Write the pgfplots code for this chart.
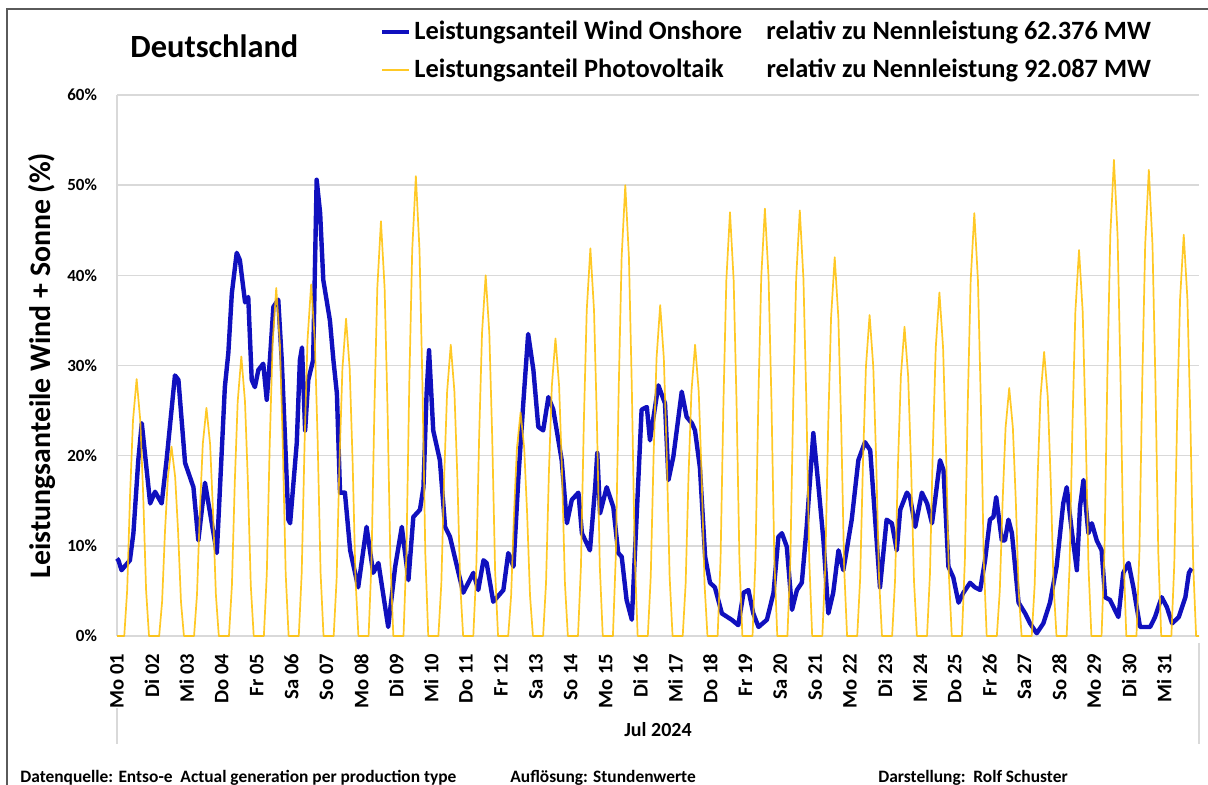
\documentclass[border=0pt]{standalone}
\usepackage{pgfplots}
\pgfplotsset{compat=1.18}
\usepackage{pgfplotstable}
\usepackage{fontspec}
\setmainfont{Carlito}
\definecolor{windblue}{RGB}{16,16,190}
\definecolor{pvgold}{RGB}{255,192,0}
\definecolor{gridgray}{RGB}{217,217,217}
\definecolor{framegray}{RGB}{90,90,90}

\pgfplotstableread{
x y
0 8.6
0.04 8.4
0.13 7.3
0.37 8.4
0.47 11.4
0.61 19.5
0.71 23.6
0.95 14.7
1.09 16.0
1.28 14.7
1.42 19.5
1.66 28.9
1.76 28.4
1.95 19.2
2.19 16.5
2.33 10.6
2.52 17.0
2.86 9.2
3.09 27.6
3.19 31.4
3.29 38.0
3.43 42.5
3.52 41.7
3.67 37.0
3.76 37.6
3.86 28.4
3.95 27.6
4.05 29.5
4.19 30.2
4.29 26.2
4.38 30.6
4.48 36.5
4.62 37.3
4.72 30.6
4.76 26.9
4.91 12.9
4.96 12.5
5.15 21.4
5.24 30.6
5.30 32.0
5.39 22.8
5.48 28.4
5.62 30.6
5.72 50.6
5.82 46.9
5.91 39.5
6.10 35.0
6.20 30.6
6.30 26.9
6.39 15.9
6.53 15.9
6.68 9.5
6.91 5.4
7.15 12.1
7.34 7.0
7.49 8.1
7.77 1.0
7.97 7.7
8.16 12.1
8.35 6.2
8.49 13.2
8.68 14.0
8.78 16.5
8.87 26.9
8.94 31.7
9.06 22.8
9.25 19.5
9.40 12.1
9.54 11.0
9.92 4.8
10.21 7.0
10.35 5.1
10.50 8.4
10.59 8.1
10.78 3.8
11.07 5.1
11.21 9.2
11.36 7.7
11.50 17.6
11.64 25.8
11.78 33.5
11.93 29.5
12.07 23.2
12.21 22.8
12.36 26.5
12.50 25.1
12.74 19.5
12.89 12.5
13.03 15.1
13.22 15.9
13.32 11.4
13.55 9.5
13.70 16.5
13.76 20.3
13.84 13.6
14.03 16.5
14.22 14.3
14.36 9.2
14.46 8.8
14.60 4.0
14.75 1.8
14.94 17.6
15.03 25.1
15.18 25.4
15.27 21.7
15.51 27.8
15.70 25.8
15.80 17.3
15.94 19.9
16.18 27.1
16.32 24.3
16.47 23.6
16.56 22.8
16.70 18.7
16.85 8.8
16.99 5.9
17.13 5.4
17.33 2.5
17.61 1.8
17.80 1.2
17.95 4.8
18.09 5.1
18.23 2.5
18.38 1.0
18.62 1.8
18.81 4.8
18.95 11.0
19.05 11.4
19.19 9.9
19.34 2.9
19.48 5.1
19.62 5.9
19.76 12.1
19.95 22.5
20.10 16.5
20.24 10.6
20.38 2.5
20.52 4.8
20.67 9.5
20.81 7.3
21.05 12.9
21.24 19.5
21.43 21.5
21.58 20.6
21.86 5.4
22.05 12.9
22.20 12.5
22.34 9.5
22.44 14.0
22.63 15.9
22.72 15.4
22.87 12.1
23.06 15.9
23.21 14.7
23.35 12.5
23.44 15.1
23.58 19.5
23.68 18.4
23.82 7.7
23.96 6.5
24.11 3.7
24.25 4.8
24.44 5.9
24.58 5.4
24.73 5.1
24.87 8.4
25.01 12.9
25.11 13.2
25.19 15.4
25.35 10.6
25.44 10.6
25.54 12.9
25.64 11.4
25.83 3.7
26.02 2.5
26.16 1.4
26.35 0.3
26.54 1.4
26.73 3.7
26.92 7.7
27.11 14.7
27.21 16.5
27.35 11.8
27.50 7.3
27.59 14.3
27.69 17.3
27.83 11.4
27.93 12.5
28.07 10.6
28.21 9.5
28.31 4.3
28.45 4.0
28.69 2.1
28.83 7.0
28.98 8.1
29.12 5.4
29.31 1.0
29.60 1.0
29.74 2.1
29.93 4.3
30.08 3.2
30.23 1.4
30.42 2.1
30.61 4.3
30.71 7.0
30.79 7.5
}\wind

\pgfplotstableread{
x y
0 0
0.208 0
0.292 5.1
0.375 15.7
0.458 23.9
0.5625 28.5
0.667 23.9
0.75 15.7
0.833 5.1
0.917 0
1.208 0
1.292 3.8
1.375 11.6
1.458 17.6
1.5625 21.0
1.667 17.6
1.75 11.6
1.833 3.8
1.917 0
2.208 0
2.292 4.6
2.375 13.9
2.458 21.3
2.5625 25.3
2.667 21.3
2.75 13.9
2.833 4.6
2.917 0
3.208 0
3.292 5.6
3.375 17.1
3.458 26.0
3.5625 31.0
3.667 26.0
3.75 17.1
3.833 5.6
3.917 0
4.208 0
4.292 6.9
4.375 21.2
4.458 32.4
4.5625 38.6
4.667 32.4
4.75 21.2
4.833 6.9
4.917 0
5.208 0
5.292 7.0
5.375 21.5
5.458 32.8
5.5625 39.0
5.667 32.8
5.75 21.5
5.833 7.0
5.917 0
6.208 0
6.292 6.3
6.375 19.4
6.458 29.6
6.5625 35.2
6.667 29.6
6.75 19.4
6.833 6.3
6.917 0
7.208 0
7.292 8.3
7.375 25.3
7.458 38.6
7.5625 46.0
7.667 38.6
7.75 25.3
7.833 8.3
7.917 0
8.208 0
8.292 9.2
8.375 28.1
8.458 42.8
8.5625 51.0
8.667 42.8
8.75 28.1
8.833 9.2
8.917 0
9.208 0
9.292 5.8
9.375 17.8
9.458 27.1
9.5625 32.3
9.667 27.1
9.75 17.8
9.833 5.8
9.917 0
10.208 0
10.292 7.2
10.375 22.0
10.458 33.6
10.5625 40.0
10.667 33.6
10.75 22.0
10.833 7.2
10.917 0
11.208 0
11.292 4.5
11.375 13.6
11.458 20.8
11.5625 24.8
11.667 20.8
11.75 13.6
11.833 4.5
11.917 0
12.208 0
12.292 5.9
12.375 18.2
12.458 27.7
12.5625 33.0
12.667 27.7
12.75 18.2
12.833 5.9
12.917 0
13.208 0
13.292 7.7
13.375 23.7
13.458 36.1
13.5625 43.0
13.667 36.1
13.75 23.7
13.833 7.7
13.917 0
14.208 0
14.292 9.0
14.375 27.5
14.458 42.0
14.5625 50.0
14.667 42.0
14.75 27.5
14.833 9.0
14.917 0
15.208 0
15.292 6.6
15.375 20.2
15.458 30.8
15.5625 36.7
15.667 30.8
15.75 20.2
15.833 6.6
15.917 0
16.208 0
16.292 5.8
16.375 17.8
16.458 27.1
16.5625 32.3
16.667 27.1
16.75 17.8
16.833 5.8
16.917 0
17.208 0
17.292 8.5
17.375 25.9
17.458 39.5
17.5625 47.0
17.667 39.5
17.75 25.9
17.833 8.5
17.917 0
18.208 0
18.292 8.5
18.375 26.1
18.458 39.8
18.5625 47.4
18.667 39.8
18.75 26.1
18.833 8.5
18.917 0
19.208 0
19.292 8.5
19.375 26.0
19.458 39.6
19.5625 47.2
19.667 39.6
19.75 26.0
19.833 8.5
19.917 0
20.208 0
20.292 7.6
20.375 23.1
20.458 35.3
20.5625 42.0
20.667 35.3
20.75 23.1
20.833 7.6
20.917 0
21.208 0
21.292 6.4
21.375 19.6
21.458 29.9
21.5625 35.6
21.667 29.9
21.75 19.6
21.833 6.4
21.917 0
22.208 0
22.292 6.2
22.375 18.9
22.458 28.8
22.5625 34.3
22.667 28.8
22.75 18.9
22.833 6.2
22.917 0
23.208 0
23.292 6.9
23.375 21.0
23.458 32.0
23.5625 38.1
23.667 32.0
23.75 21.0
23.833 6.9
23.917 0
24.208 0
24.292 8.4
24.375 25.8
24.458 39.4
24.5625 46.9
24.667 39.4
24.75 25.8
24.833 8.4
24.917 0
25.208 0
25.292 5.0
25.375 15.1
25.458 23.1
25.5625 27.5
25.667 23.1
25.75 15.1
25.833 5.0
25.917 0
26.208 0
26.292 5.7
26.375 17.3
26.458 26.5
26.5625 31.5
26.667 26.5
26.75 17.3
26.833 5.7
26.917 0
27.208 0
27.292 7.7
27.375 23.5
27.458 36.0
27.5625 42.8
27.667 36.0
27.75 23.5
27.833 7.7
27.917 0
28.208 0
28.292 9.5
28.375 29.0
28.458 44.4
28.5625 52.8
28.667 44.4
28.75 29.0
28.833 9.5
28.917 0
29.208 0
29.292 9.3
29.375 28.4
29.458 43.4
29.5625 51.7
29.667 43.4
29.75 28.4
29.833 9.3
29.917 0
30.208 0
30.292 8.0
30.375 24.5
30.458 37.4
30.5625 44.5
30.667 37.4
30.75 24.5
30.833 8.0
30.917 0
31 0
}\pv

\begin{document}
\begin{tikzpicture}
\useasboundingbox (0,0) rectangle (604pt,392.5pt);
\fill[white] (0,0) rectangle (604pt,392.5pt);
\draw[framegray, line width=1.2pt] (3.5pt,-10pt) -- (3.5pt,388pt) -- (620pt,388pt);
\node[anchor=west, inner sep=0pt, font=\fontsize{16.2}{19}\selectfont\bfseries] at (65pt,369.5pt) {Deutschland};
\begin{axis}[
  at={(58.5pt,74.5pt)}, anchor=south west,
  scale only axis, width=541pt, height=270.5pt,
  xmin=0, xmax=31, ymin=0, ymax=60,
  clip=false,
  axis x line*=bottom, axis y line*=left,
  axis line style={gridgray, line width=0.8pt, -},
  major tick length=0pt,
  xtick={0,...,30},
  xticklabels={Mo 01,Di 02,Mi 03,Do 04,Fr 05,Sa 06,So 07,Mo 08,Di 09,Mi 10,Do 11,Fr 12,Sa 13,So 14,Mo 15,Di 16,Mi 17,Do 18,Fr 19,Sa 20,So 21,Mo 22,Di 23,Mi 24,Do 25,Fr 26,Sa 27,So 28,Mo 29,Di 30,Mi 31},
  xticklabel shift=5.5pt,
  xticklabel style={rotate=90, anchor=east, font=\fontsize{10.3}{12}\selectfont\bfseries},
  ytick={0,10,...,60},
  yticklabels={0\%,10\%,20\%,30\%,40\%,50\%,60\%},
  yticklabel style={anchor=east, font=\fontsize{8.5}{10}\selectfont\bfseries, xshift=-6.5pt},
  ymajorgrids,
  grid style={gridgray, line width=0.7pt},
  xlabel={Jul 2024},
  xlabel style={at={(axis description cs:0.5,-0.1738)}, anchor=center, font=\fontsize{10}{12}\selectfont\bfseries},
  ylabel={Leistungsanteile Wind + Sonne (\%)},
  ylabel style={at={(axis description cs:-0.0693,0.5)}, anchor=center, font=\fontsize{14.9}{17}\selectfont\bfseries},
  legend style={at={(axis description cs:0.2375,1.149)}, anchor=north west, draw=none, fill=none,
    font=\fontsize{13.2}{15}\selectfont\bfseries, row sep=6.5pt,
    nodes={inner xsep=1.5pt, inner ysep=1pt}},
  legend cell align=left,
]
\addplot[windblue, line width=2.2pt, line join=round,
  legend image code/.code={\draw[windblue, line width=2pt] (0pt,0pt) -- (13.5pt,0pt);}]
  table[x=x,y=y] {\wind};
\addlegendentry{\makebox[176pt][l]{Leistungsanteil Wind Onshore}relativ zu Nennleistung 62.376 MW}
\addplot[pvgold, line width=0.85pt, opacity=0.85, line join=round,
  legend image code/.code={\draw[pvgold, line width=0.85pt] (0pt,0pt) -- (13.5pt,0pt);}]
  table[x=x,y=y] {\pv};
\addlegendentry{\makebox[176pt][l]{Leistungsanteil Photovoltaik}relativ zu Nennleistung 92.087 MW}
\draw[gridgray, line width=0.7pt] (axis description cs:0,0) ++(0,-36pt) -- ++(0,-18pt);
\draw[gridgray, line width=0.7pt] (axis description cs:1,0) ++(0,-3.5pt) -- ++(0,-50.5pt);
\end{axis}
\node[anchor=west, font=\fontsize{8.7}{10}\selectfont\bfseries, inner sep=0pt] at (10pt,3.8pt) {Datenquelle: Entso-e\ \ Actual generation per production type};
\node[anchor=west, font=\fontsize{8.7}{10}\selectfont\bfseries, inner sep=0pt] at (255pt,3.8pt) {Auflösung: Stundenwerte};
\node[anchor=west, font=\fontsize{8.7}{10}\selectfont\bfseries, inner sep=0pt] at (439pt,3.8pt) {Darstellung:\ \ Rolf Schuster};
\end{tikzpicture}
\end{document}
